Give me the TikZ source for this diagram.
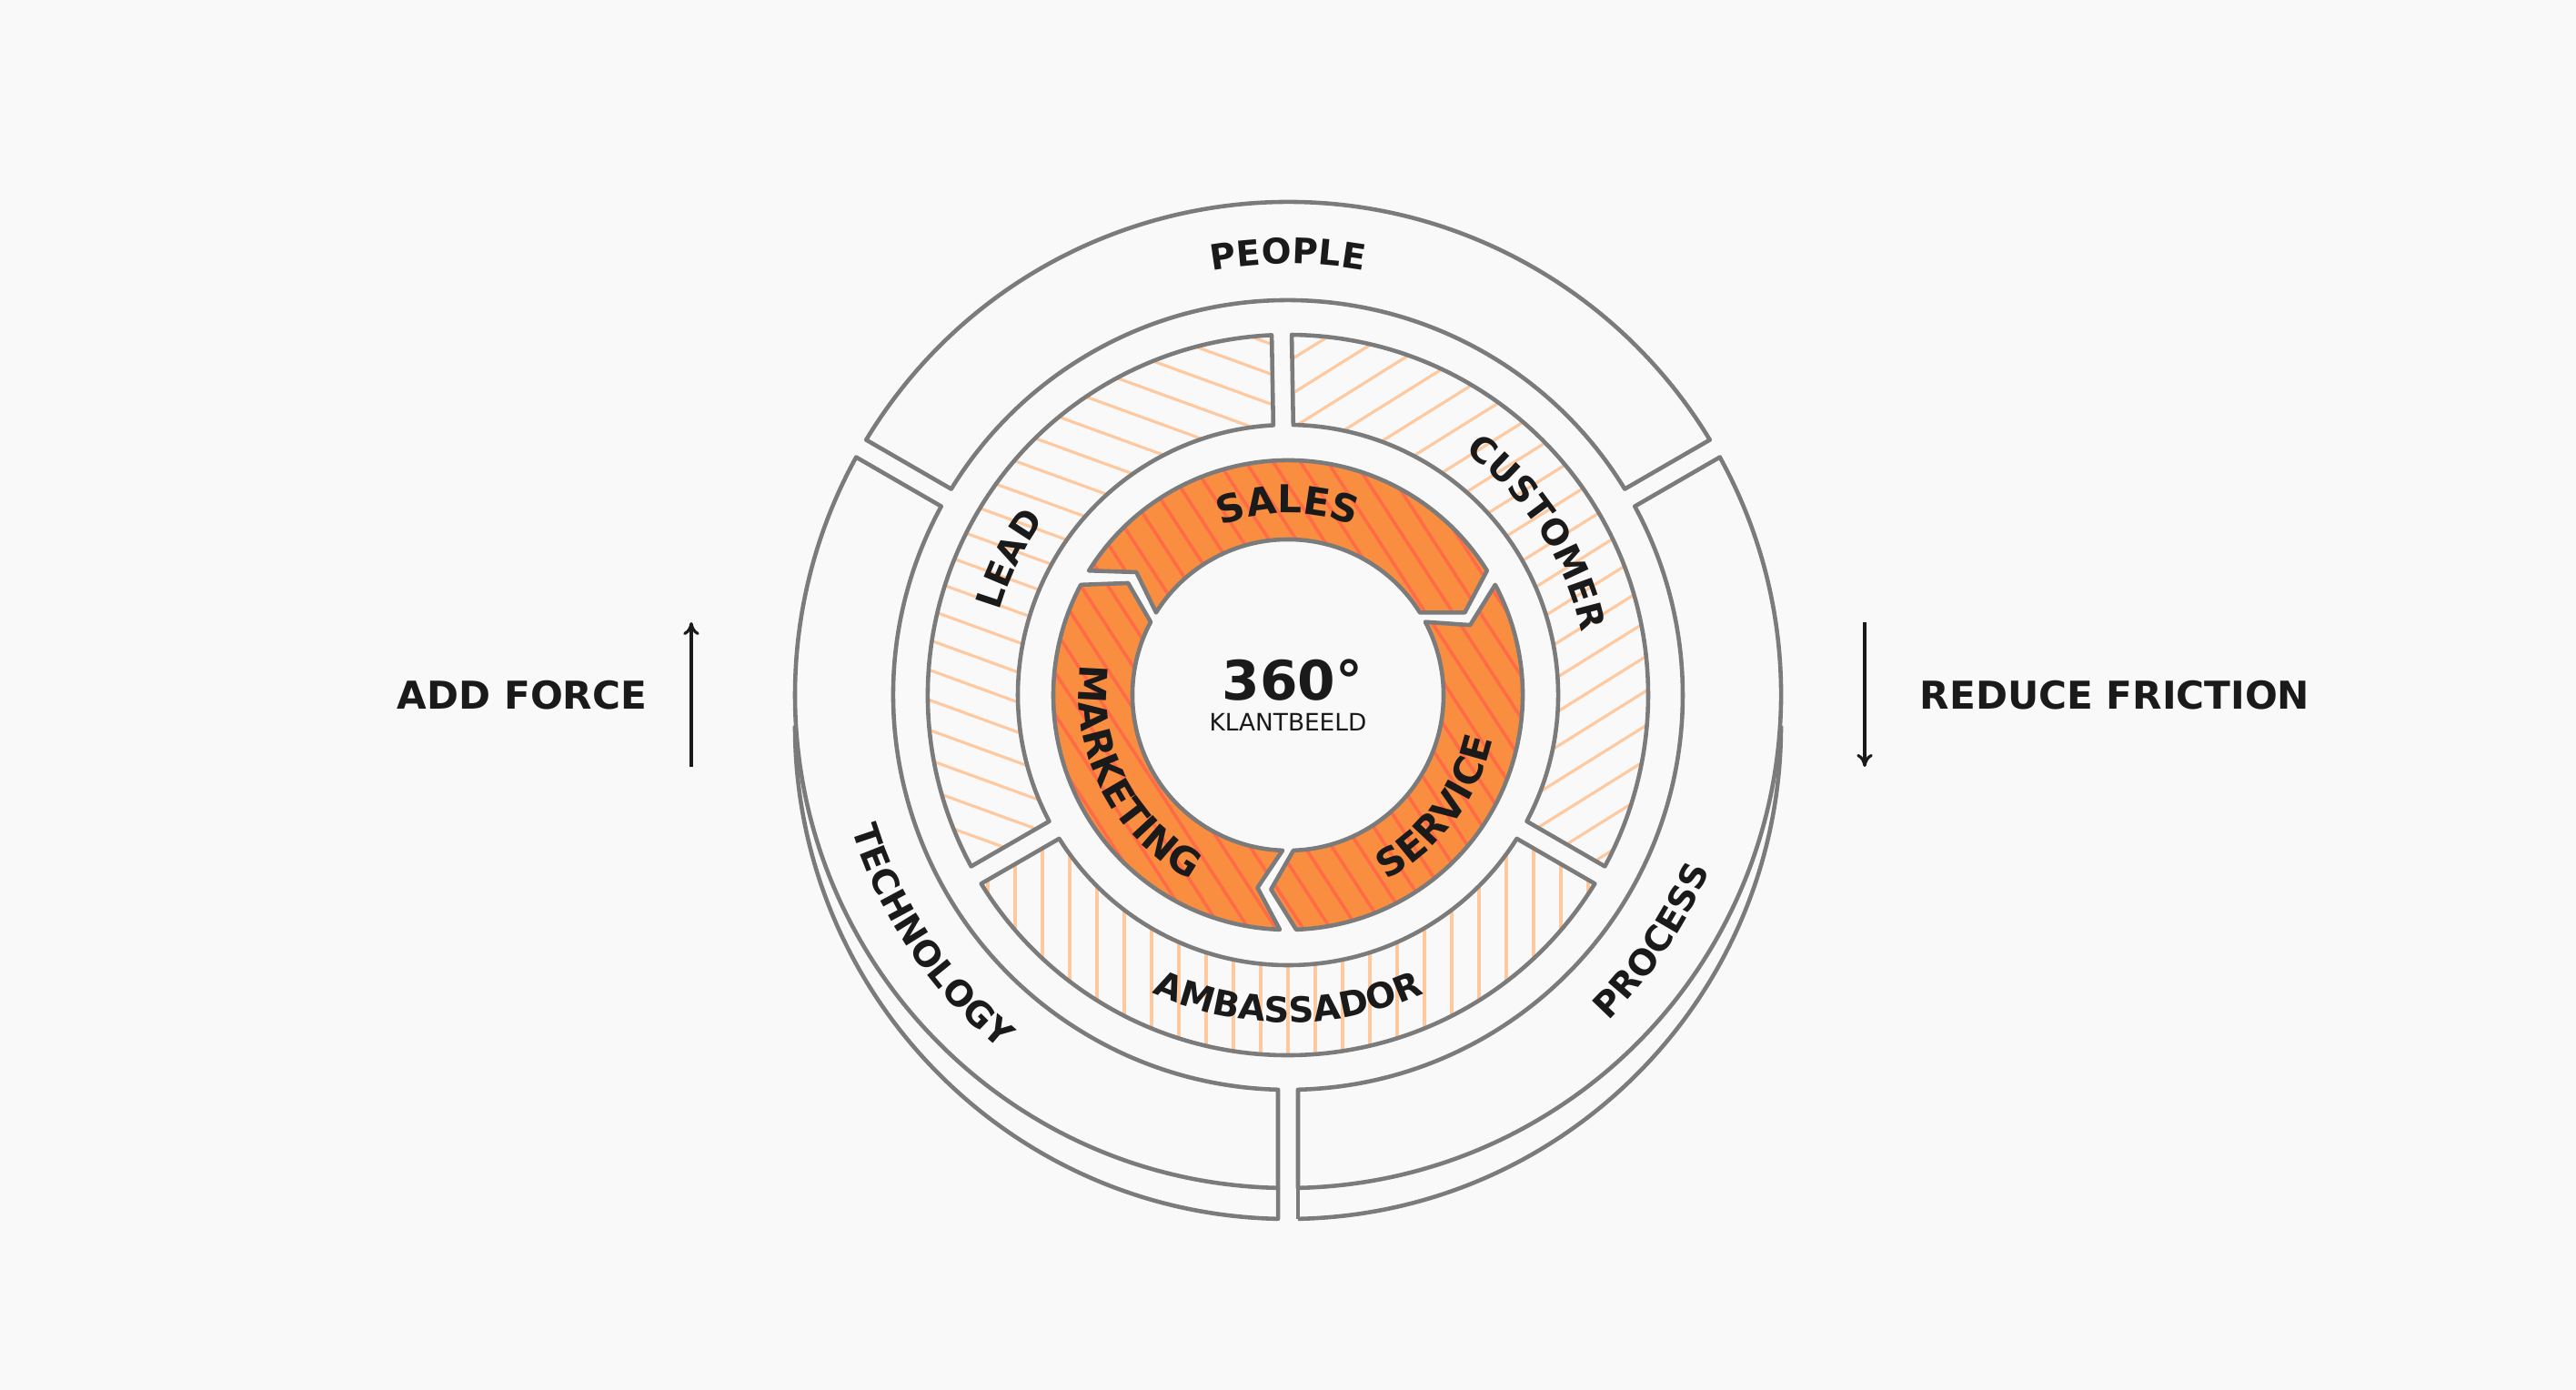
\documentclass[tikz,border=0pt]{standalone}
\usepackage{fontspec}
\usetikzlibrary{arrows.meta, decorations.text}
\newfontfamily\wfont{DejaVu Sans}
\definecolor{bg}{HTML}{F9F9F9}
\definecolor{edge}{HTML}{7B7B7B}
\definecolor{ink}{HTML}{1A1A1A}
\definecolor{orangefill}{HTML}{F98D40}
\definecolor{orangeline}{HTML}{FF6A47}
\definecolor{peach}{HTML}{FFC9A0}
\newcommand{\ringfont}{\wfont\bfseries\fontsize{11pt}{13pt}\selectfont}
\newcommand{\segfont}{\wfont\bfseries\fontsize{12pt}{14pt}\selectfont}
% ring piece: #1 start angle, #2 end angle (clockwise), #3 inner r, #4 outer r, #5 half gap
\newcommand{\ringpiece}[5]{({#1-asin(#5/#4)}:#4) arc[start angle={#1-asin(#5/#4)}, end angle={#2+asin(#5/#4)}, radius=#4] -- ({#2+asin(#5/#3)}:#3) arc[start angle={#2+asin(#5/#3)}, end angle={#1-asin(#5/#3)}, radius=#3] -- cycle}
% orange arrow piece: #1 start angle (tail), #2 end angle (head)
\newcommand{\arrowpiece}[2]{({#1-2}:2.58) arc[start angle={#1-2}, end angle={#2+2}, radius=2.58] -- ({#2-5}:2.145) -- ({#2+2}:1.71) arc[start angle={#2+2}, end angle={#1-2}, radius=1.71] -- ({#1-9}:2.145) -- cycle}

\begin{document}
\begin{tikzpicture}
    \tikzstyle{piece} = [draw=edge, line width=1.3pt, fill=bg, line join=round]
    \tikzstyle{arrowbox} = [draw=edge, line width=1.3pt, line join=round]
    \tikzstyle{lighthatch} = [peach, line width=0.9pt]
    \tikzstyle{redhatch} = [orangeline, line width=1pt]
    \tikzstyle{sidetext} = [font=\wfont\bfseries\fontsize{12pt}{14pt}\selectfont, text=ink]
    \tikzstyle{arrow} = [ink, line width=0.9pt, -{To[length=4pt,width=5pt]}]

    \fill[bg] (-14.16,-7.64) rectangle (14.16,7.64);
    \useasboundingbox (-14.16,-7.64) rectangle (14.16,7.64);

    % outer ring
    \draw[piece] ([yshift=-0.34cm]180:5.42) arc[start angle=180, end angle=268.84, radius=5.42] -- ++(0,0.34);
    \draw[piece] ([yshift=-0.34cm]-88.84:5.42) arc[start angle=-88.84, end angle=0, radius=5.42];
    \draw[edge, line width=1.3pt] (-88.84:5.42) -- ++(0,-0.34);
    \draw[piece] \ringpiece{150}{30}{4.34}{5.42}{0.11};
    \draw[piece] \ringpiece{30}{-90}{4.34}{5.42}{0.11};
    \draw[piece] \ringpiece{270}{150}{4.34}{5.42}{0.11};

    % middle ring
    \begin{scope}
        \clip \ringpiece{210}{91}{2.97}{3.96}{0.11};
        \foreach \i in {-16,...,28} \draw[lighthatch] (-5,{\i*0.33}) -- ++(-20:8);
    \end{scope}
    \begin{scope}
        \clip \ringpiece{91}{-30}{2.97}{3.96}{0.11};
        \foreach \i in {-30,...,14} \draw[lighthatch] (-1,{\i*0.38}) -- ++(32:8);
    \end{scope}
    \begin{scope}
        \clip \ringpiece{-30}{-150}{2.97}{3.96}{0.11};
        \foreach \i in {-14,...,14} \draw[lighthatch] ({\i*0.3},0) -- ++(0,-4.5);
    \end{scope}
    \draw[arrowbox] \ringpiece{210}{91}{2.97}{3.96}{0.11};
    \draw[arrowbox] \ringpiece{91}{-30}{2.97}{3.96}{0.11};
    \draw[arrowbox] \ringpiece{-30}{-150}{2.97}{3.96}{0.11};

    % orange arrows
    \foreach \a/\b in {150/30, 30/-90, 270/150} {
        \begin{scope}
            \clip \arrowpiece{\a}{\b};
            \fill[orangefill] (-3,-3) rectangle (3,3);
            \foreach \i in {-22,...,22} \draw[redhatch] ({\i*0.3},0) ++(-57:-4) -- ++(-57:8);
        \end{scope}
        \draw[arrowbox] \arrowpiece{\a}{\b};
    }

    % ring labels
    \path[decorate, decoration={text along path, text align=center, text color=ink, text={|\ringfont|PEOPLE}}] (130:4.74) arc[start angle=130, end angle=50, radius=4.74];
    \path[decorate, decoration={text along path, text align=center, text color=ink, text={|\ringfont|TECHNOLOGY}}] (180:5.02) arc[start angle=180, end angle=248, radius=5.02];
    \path[decorate, decoration={text along path, text align=center, text color=ink, text={|\ringfont|PROCESS}}] (-68:5.02) arc[start angle=-68, end angle=0, radius=5.02];
    \path[decorate, decoration={text along path, text align=center, text color=ink, text={|\ringfont|LEAD}}] (194:3.3) arc[start angle=194, end angle=114, radius=3.3];
    \path[decorate, decoration={text along path, text align=center, text color=ink, text={|\ringfont|CUSTOMER}}] (73:3.3) arc[start angle=73, end angle=-7, radius=3.3];
    \path[decorate, decoration={text along path, text align=center, text color=ink, text={|\ringfont|AMBASSADOR}}] (-135:3.6) arc[start angle=-135, end angle=-45, radius=3.6];
    \path[decorate, decoration={text along path, text align=center, text color=ink, text={|\segfont|SALES}}] (130:2.0) arc[start angle=130, end angle=50, radius=2.0];
    \path[decorate, decoration={text along path, text align=center, text color=ink, text={|\segfont|SERVICE}}] (-82:2.3) arc[start angle=-82, end angle=8, radius=2.3];
    \path[decorate, decoration={text along path, text align=center, text color=ink, text={|\segfont|MARKETING}}] (158:2.3) arc[start angle=158, end angle=256, radius=2.3];

    % centre
    \node (degrees) [font=\wfont\bfseries\fontsize{17pt}{19pt}\selectfont, text=ink] at (0.05,0.16) {360\textdegree};
    \node (klantbeeld) [font=\wfont\fontsize{7.5pt}{9pt}\selectfont, text=ink] at (0,-0.3) {KLANTBEELD};

    % side labels
    \node (addforce) [sidetext] at (-8.42,0) {ADD FORCE};
    \node (reducefriction) [sidetext] at (9.09,0) {REDUCE FRICTION};
    \coordinate (forcelow) at (-6.56,-0.79);
    \coordinate (forcehigh) at (-6.56,0.8);
    \coordinate (frictionhigh) at (6.34,0.8);
    \coordinate (frictionlow) at (6.34,-0.79);

    % Arrows
    \draw [arrow] (forcelow) -- (forcehigh);
    \draw [arrow] (frictionhigh) -- (frictionlow);
\end{tikzpicture}
\end{document}
